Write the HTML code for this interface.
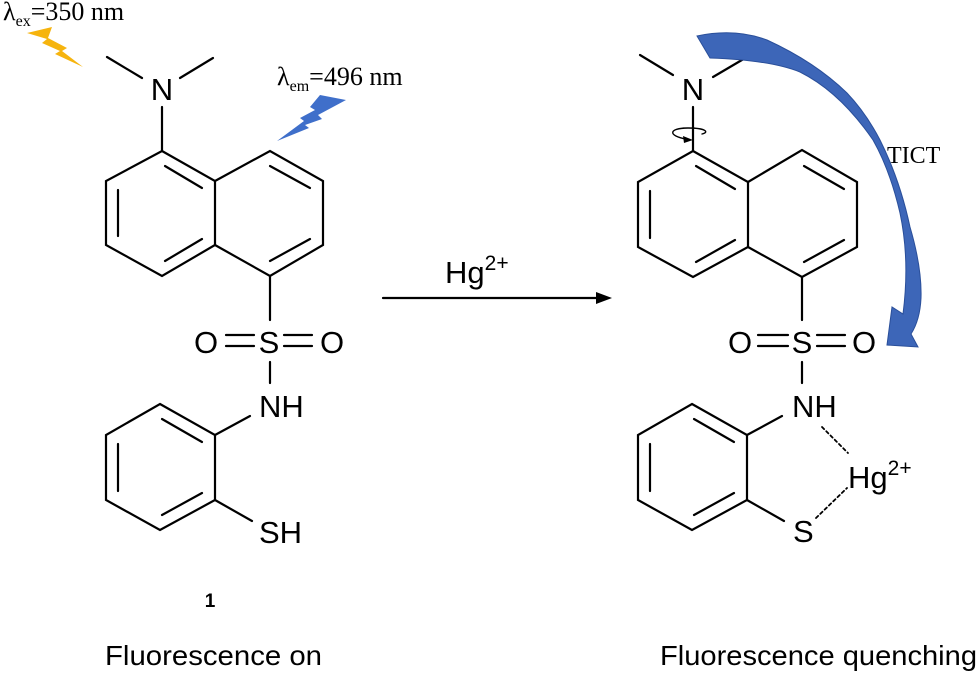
<!DOCTYPE html>
<html><head><meta charset="utf-8"><style>
html,body{margin:0;padding:0;background:#fff;}
svg{display:block;}
text{font-family:"Liberation Sans",Arial,sans-serif;fill:#000;}
.s{font-family:"Liberation Serif",serif;}
</style></head><body>
<svg width="980" height="673" viewBox="0 0 980 673" xmlns="http://www.w3.org/2000/svg">
<g stroke="#000" stroke-width="2.2" fill="none" stroke-linecap="round">
<line x1="107" y1="57" x2="142" y2="78"/><line x1="180" y1="78" x2="213" y2="58"/>
<line x1="162" y1="107" x2="162" y2="151"/>
<polygon points="162,151 215,181 215,245 162,276 106,245 106,181"/>
<polyline points="215,181 270,151 323,181 323,245 270,276 215,245"/>
<line x1="118" y1="190" x2="118" y2="236"/>
<line x1="165" y1="166" x2="202" y2="188"/>
<line x1="165" y1="261" x2="202" y2="239"/>
<line x1="270" y1="166" x2="310" y2="188"/>
<line x1="270" y1="261" x2="310" y2="239"/>
<line x1="270" y1="276" x2="270" y2="320"/>
<line x1="226" y1="335" x2="254" y2="335"/><line x1="226" y1="346" x2="254" y2="346"/>
<line x1="284" y1="335" x2="312" y2="335"/><line x1="284" y1="346" x2="312" y2="346"/>
<line x1="270" y1="362" x2="270" y2="383"/>
<polygon points="160,404 215,435 215,500 160,530 106,500 106,435"/>
<line x1="118" y1="444" x2="118" y2="491"/>
<line x1="162" y1="419" x2="202" y2="442"/>
<line x1="162" y1="515" x2="202" y2="493"/>
<line x1="215" y1="435" x2="250" y2="416"/>
<line x1="215" y1="500" x2="252" y2="521"/>
<line x1="383" y1="298" x2="600" y2="298"/>
<line x1="640" y1="55" x2="673" y2="75"/><line x1="713" y1="77" x2="747" y2="57"/>
<line x1="693" y1="107" x2="693" y2="151"/>
<polygon points="693,151 748,182 748,247 693,277 638,247 638,182"/>
<polyline points="748,182 802,150 857,182 857,247 802,277 748,247"/>
<line x1="650" y1="191" x2="650" y2="238"/>
<line x1="696" y1="166" x2="735" y2="189"/>
<line x1="696" y1="262" x2="735" y2="240"/>
<line x1="804" y1="166" x2="844" y2="189"/>
<line x1="804" y1="262" x2="844" y2="240"/>
<line x1="802" y1="277" x2="802" y2="320"/>
<line x1="758" y1="335" x2="788" y2="335"/><line x1="758" y1="346" x2="788" y2="346"/>
<line x1="817" y1="335" x2="845" y2="335"/><line x1="817" y1="346" x2="845" y2="346"/>
<line x1="802" y1="362" x2="802" y2="383"/>
<polygon points="692,404 747,435 747,500 692,530 638,500 638,435"/>
<line x1="650" y1="444" x2="650" y2="491"/>
<line x1="694" y1="419" x2="734" y2="442"/>
<line x1="694" y1="515" x2="734" y2="493"/>
<line x1="747" y1="435" x2="782" y2="416"/>
<line x1="747" y1="500" x2="784" y2="521"/>
<line x1="822" y1="427" x2="848" y2="453" stroke-dasharray="3,3" stroke-width="1.8"/>
<line x1="816" y1="518" x2="847" y2="488" stroke-dasharray="3,3" stroke-width="1.8"/>
<path d="M686,139 C668,136 668,128 688,128 C705,128 710,132 702,134" stroke-width="1.4"/>
</g>
<polygon points="612,298 596,292 596,304" fill="#000"/>
<polygon points="693,140 683,136 684,143" fill="#000"/>
<path d="M697,36 Q735,28 767,40 Q815,62 847,93 Q866,113 880,140 Q900,180 910,227 Q922,268 921,298 Q920,320 911,334 L918,347 L887,345 L892,307 L903,314 Q910,260 900,213 Q890,170 873,140 Q840,92 800,72 Q770,60 710,58 Z" fill="#3d66b8" stroke="#2a4f9a" stroke-width="1"/>
<polygon points="27,33 52,27 48,38 67,48 62,51 83,67 55,54 60,51 42,43 47,39" fill="#f6b40e"/>
<polygon points="346,100 320,95 310,107 315,110 300,118 304,121 277,141 309,128 305,125 322,119 318,115" fill="#3f6fca"/>
<g font-size="31">
<text x="162" y="100" text-anchor="middle">N</text>
<text x="693" y="100" text-anchor="middle">N</text>
<text x="206" y="353" text-anchor="middle">O</text>
<text x="269" y="353" text-anchor="middle">S</text>
<text x="332" y="353" text-anchor="middle">O</text>
<text x="259" y="417">NH</text>
<text x="259" y="543">SH</text>
<text x="740" y="353" text-anchor="middle">O</text>
<text x="802" y="353" text-anchor="middle">S</text>
<text x="864" y="353" text-anchor="middle">O</text>
<text x="792" y="417">NH</text>
<text x="793" y="542">S</text>
<text x="848" y="488">Hg<tspan font-size="21" dy="-13">2+</tspan></text>
<text x="445" y="283">Hg<tspan font-size="21" dy="-13">2+</tspan></text>
</g>
<text x="210" y="607" font-size="19" font-weight="bold" text-anchor="middle">1</text>
<text x="105" y="665" font-size="28" textLength="217" lengthAdjust="spacingAndGlyphs">Fluorescence on</text>
<text x="660" y="665" font-size="28" textLength="317" lengthAdjust="spacingAndGlyphs">Fluorescence quenching</text>
<text class="s" x="3" y="20" font-size="26">λ<tspan font-size="16" dy="6">ex</tspan><tspan dy="-6">=350 nm</tspan></text>
<text class="s" x="277" y="85" font-size="26">λ<tspan font-size="16" dy="6">em</tspan><tspan dy="-6">=496 nm</tspan></text>
<text class="s" x="887" y="163" font-size="24">TICT</text>
</svg>
</body></html>
